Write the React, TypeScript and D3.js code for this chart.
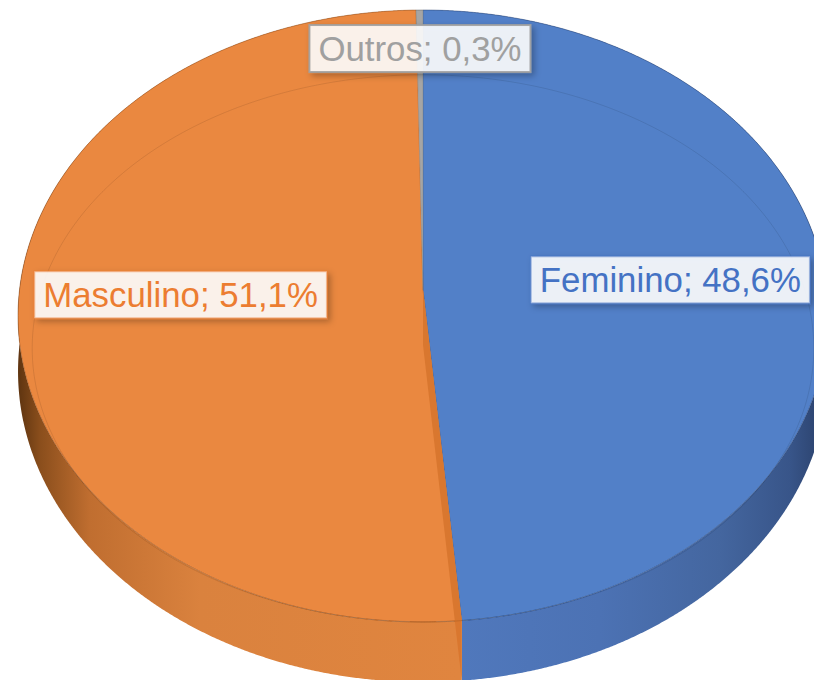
import React, { useMemo } from "react";
import * as d3 from "d3";

const categories = ["Feminino", "Masculino", "Outros"];
const values = [48.6, 51.1, 0.3];
const valueLabels = ["48,6%", "51,1%", "0,3%"];

const topColors = ["#5280C8", "#EA8840", "#A5A5A5"];
const textColors = ["#4472C4", "#EC7D31", "#A0A0A0"];
const edgeColors = ["#2F4E8A", "#A85A20", "#7A7A7A"];
const labelRadius = [0.615, 0.6, 0.86];
const labelShiftY = [-2, -5, 2];

const W = 814, H = 680;
const CX = 423, CY = 290, RX = 403.5, RY = 303.8, K = 0.085, DEPTH = 55;
const FONT_SIZE = 34.8;
const FONT = "'Liberation Sans', Arial, sans-serif";

type Pt = [number, number];

function proj(theta: number, r = 1, h = 0): Pt {
  const u = Math.sin(theta) * r;
  const v = -Math.cos(theta) * r;
  const p = 1 / (1 - K * v);
  return [CX + RX * u * p, CY + RY * v * p + h * p];
}

function innerProj(theta: number): Pt {
  const u = Math.sin(theta);
  const v = -Math.cos(theta);
  const p = 1 / (1 - K * v);
  return [CX + RX * 0.965 * u * p, 325 + 271.5 * v * p];
}

function sample(a0: number, a1: number, fn: (t: number) => Pt): Pt[] {
  const n = Math.max(2, Math.ceil(Math.abs(a1 - a0) / 0.004) + 1);
  return d3.range(n).map((i) => fn(a0 + ((a1 - a0) * i) / (n - 1)));
}

const line = d3.line<Pt>().x((d) => d[0]).y((d) => d[1]);

function measure(text: string): number {
  const c = document.createElement("canvas").getContext("2d");
  if (!c) return text.length * FONT_SIZE * 0.5;
  c.font = `${FONT_SIZE}px 'Liberation Sans', Arial, sans-serif`;
  return c.measureText(text).width;
}

export default function App() {
  const arcs = useMemo(
    () => d3.pie<number>().sort(null).value((d) => d).startAngle(0).endAngle(2 * Math.PI)(values),
    []
  );

  const walls = arcs.map((a, i) => {
    const top = sample(a.startAngle, a.endAngle, (t) => proj(t, 1, 0));
    const bot = sample(a.startAngle, a.endAngle, (t) => proj(t, 1, DEPTH)).reverse();
    return { d: line([...top, ...bot]) + "Z", i };
  });

  const tops = arcs.map((a, i) => {
    const c = proj(0, 0, 0);
    const pts = sample(a.startAngle, a.endAngle, (t) => proj(t, 1, 0));
    return { d: line([c, ...pts]) + "Z", i };
  });

  const b = arcs[0].endAngle;
  const cTop = proj(b, 0, 0);
  const eTop = proj(b, 1, 0);
  const eBot = proj(b, 1, DEPTH);
  const cBot = proj(b, 0, DEPTH);
  const radialFace = line([cTop, eTop, eBot, cBot]) + "Z";

  const inner = line(sample(0, 2 * Math.PI, innerProj)) + "Z";
  const outline = line(sample(0, 2 * Math.PI, (t) => proj(t, 1, 0))) + "Z";

  const labels = arcs.map((a, i) => {
    const mid = (a.startAngle + a.endAngle) / 2;
    const [x, y0] = proj(mid, labelRadius[i], 0);
    const y = y0 + labelShiftY[i];
    const text = `${categories[i]}; ${valueLabels[i]}`;
    const tw = measure(text);
    return { x, y, text, tw, i };
  });

  const xs = (x: number) => (x - 18) / 808;

  return (
    <div style={{ position: "fixed", left: 0, top: 0 }}>
      <svg width={W} height={H} style={{ display: "block", background: "#fff" }}>
        <defs>
          <linearGradient id="wallOrange" gradientUnits="userSpaceOnUse" x1={18} x2={826} y1={0} y2={0}>
            <stop offset={0} stopColor="#5E3410" />
            <stop offset={xs(40)} stopColor="#8A4E1C" />
            <stop offset={xs(90)} stopColor="#C06E30" />
            <stop offset={xs(200)} stopColor="#DA823E" />
            <stop offset={xs(460)} stopColor="#E0853F" />
            <stop offset={1} stopColor="#E0853F" />
          </linearGradient>
          <linearGradient id="wallBlue" gradientUnits="userSpaceOnUse" x1={18} x2={826} y1={0} y2={0}>
            <stop offset={0} stopColor="#5078BC" />
            <stop offset={xs(460)} stopColor="#5078BC" />
            <stop offset={xs(600)} stopColor="#4C72B4" />
            <stop offset={xs(720)} stopColor="#44669F" />
            <stop offset={xs(790)} stopColor="#385589" />
            <stop offset={1} stopColor="#2A406A" />
          </linearGradient>
          <filter id="shadow" x="-10%" y="-30%" width="130%" height="180%">
            <feDropShadow dx={3} dy={3} stdDeviation={3} floodColor="#000" floodOpacity={0.3} />
          </filter>
        </defs>

        {walls.map((w) => (
          <path
            key={"w" + w.i}
            d={w.d}
            fill={w.i === 0 ? "url(#wallBlue)" : w.i === 1 ? "url(#wallOrange)" : "#8A8A8A"}
          />
        ))}

        {tops.map((t) => (
          <path
            key={"t" + t.i}
            d={t.d}
            fill={topColors[t.i]}
            stroke={edgeColors[t.i]}
            strokeOpacity={0.45}
            strokeWidth={0.8}
          />
        ))}

        <path d={inner} fill="none" stroke="#000" strokeOpacity={0.12} strokeWidth={0.8} />
        <path d={radialFace} fill="#D9772F" />
        <path d={outline} fill="none" stroke="#000" strokeOpacity={0.15} strokeWidth={0.8} />

        {labels.map((l) => {
          const bw = l.tw + 18;
          const bh = 47;
          return (
            <g key={"l" + l.i}>
              <rect
                x={l.x - bw / 2}
                y={l.y - bh / 2}
                width={bw}
                height={bh}
                fill="#fff"
                fillOpacity={0.88}
                stroke={textColors[l.i]}
                strokeOpacity={l.i === 2 ? 0.9 : 0.45}
                strokeWidth={2}
                filter="url(#shadow)"
              />
              <text
                x={l.x}
                y={l.y + FONT_SIZE * 0.35}
                textAnchor="middle"
                fontFamily={FONT}
                fontSize={FONT_SIZE}
                fill={textColors[l.i]}
              >
                {l.text}
              </text>
            </g>
          );
        })}
      </svg>
    </div>
  );
}
